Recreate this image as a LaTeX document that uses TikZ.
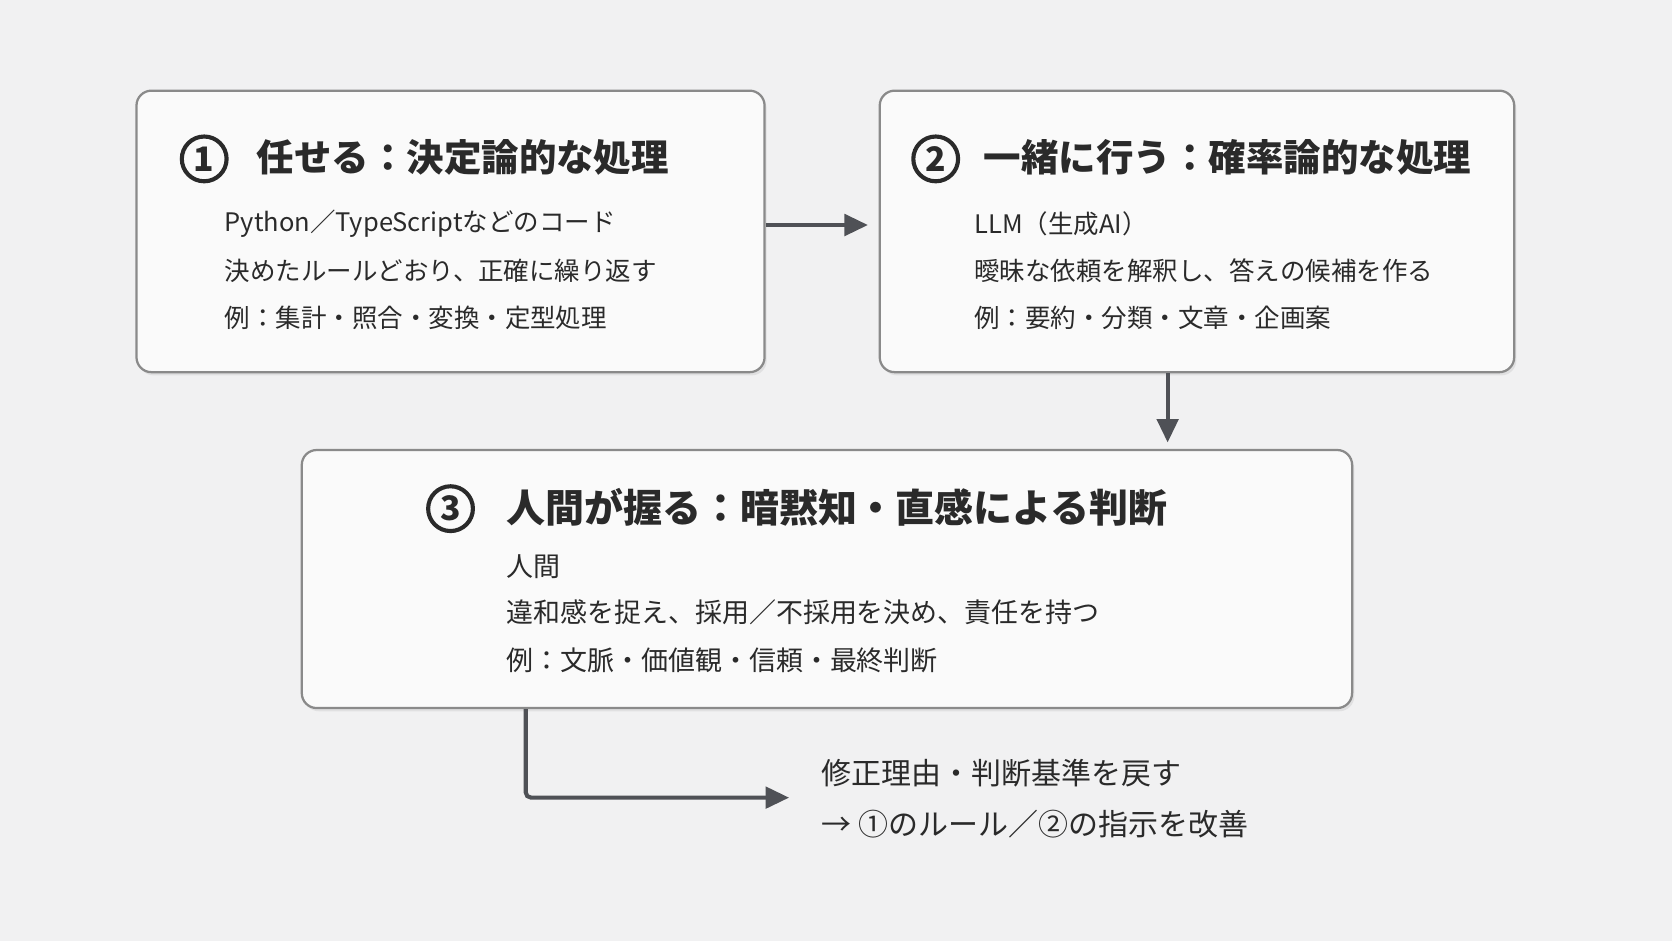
\documentclass[tikz,border=0pt]{standalone}
\usepackage{fontspec}
\setmainfont{Noto Sans CJK JP}
\usetikzlibrary{positioning,arrows.meta,shadows}
\definecolor{bgcol}{HTML}{F1F1F2}
\definecolor{boxcol}{HTML}{FAFAFA}
\definecolor{edgecol}{HTML}{8A8A8A}
\definecolor{arrcol}{HTML}{4F5156}
\definecolor{txtcol}{HTML}{2A2A2A}
\tikzset{
  stage/.style={draw=edgecol, line width=0.6pt, fill=boxcol, rounded corners=0.14cm,
    drop shadow={shadow xshift=0.02cm, shadow yshift=-0.03cm, opacity=0.15}},
  num/.style={draw=txtcol, line width=1.1pt, circle, minimum size=0.42cm, inner sep=0pt,
    font=\fontsize{9pt}{10pt}\selectfont\bfseries, text=txtcol},
  ttl/.style={anchor=west, font=\fontsize{10pt}{12pt}\selectfont\bfseries, text=txtcol, inner sep=0pt},
  body/.style={anchor=west, font=\fontsize{6.8pt}{8pt}\selectfont, text=txtcol, inner sep=0pt},
  note/.style={body, font=\fontsize{8pt}{9pt}\selectfont},
  flow/.style={draw=arrcol, line width=1.1pt, -{Triangle[length=0.22cm, width=0.2cm]}}
}
\begin{document}
\begin{tikzpicture}[x=1cm,y=1cm]
  \fill[bgcol] (0,0) rectangle (15.68,-8.82);
  \useasboundingbox (0,0) rectangle (15.68,-8.82);

  % stage boxes
  \node[stage, minimum width=5.89cm, minimum height=2.64cm] (s1) at (4.225,-2.17) {};
  \node[stage, minimum width=5.95cm, minimum height=2.64cm] (s2) at (11.225,-2.17) {};
  \node[stage, minimum width=9.85cm, minimum height=2.42cm] (s3) at (7.755,-5.43) {};

  % stage 1
  \node[num] (n1) at (1.915,-1.49) {1};
  \node[ttl] (t1) at (2.40,-1.48) {任せる：決定論的な処理};
  \node[body] (a1) at (2.10,-2.10) {Python／TypeScriptなどのコード};
  \node[body] (b1) at (2.10,-2.54) {決めたルールどおり、正確に繰り返す};
  \node[body] (c1) at (2.10,-2.98) {例：集計・照合・変換・定型処理};

  % stage 2
  \node[num] (n2) at (8.775,-1.49) {2};
  \node[ttl] (t2) at (9.22,-1.48) {一緒に行う：確率論的な処理};
  \node[body] (a2) at (9.13,-2.10) {LLM（生成AI）};
  \node[body] (b2) at (9.13,-2.54) {曖昧な依頼を解釈し、答えの候補を作る};
  \node[body] (c2) at (9.13,-2.98) {例：要約・分類・文章・企画案};

  % stage 3
  \node[num] (n3) at (4.225,-4.77) {3};
  \node[ttl, font=\fontsize{10.4pt}{12pt}\selectfont\bfseries] (t3) at (4.74,-4.76) {人間が握る：暗黙知・直感による判断};
  \node[body, font=\fontsize{7.2pt}{8pt}\selectfont] (a3) at (4.74,-5.31) {人間};
  \node[body, font=\fontsize{7.2pt}{8pt}\selectfont] (b3) at (4.74,-5.74) {違和感を捉え、採用／不採用を決め、責任を持つ};
  \node[body, font=\fontsize{7.2pt}{8pt}\selectfont] (c3) at (4.74,-6.19) {例：文脈・価値観・信頼・最終判断};

  % feedback
  \node[note] (fb1) at (7.70,-7.25) {修正理由・判断基準を戻す};
  \node[note] (fb2) at (7.70,-7.73) {→ ①のルール／②の指示を改善};
  \coordinate (ret) at (7.40,-7.48);

  % connectors
  \draw[flow, shorten >=0.1cm] (s1.east |- 0,-2.11) -- (s2.west |- 0,-2.11);
  \draw[flow, shorten >=0.06cm] (s2.south -| 10.95,0) -- (s3.north -| 10.95,0);
  \draw[flow, rounded corners=0.05cm] (s3.south -| 4.93,0) |- (ret);
\end{tikzpicture}
\end{document}
